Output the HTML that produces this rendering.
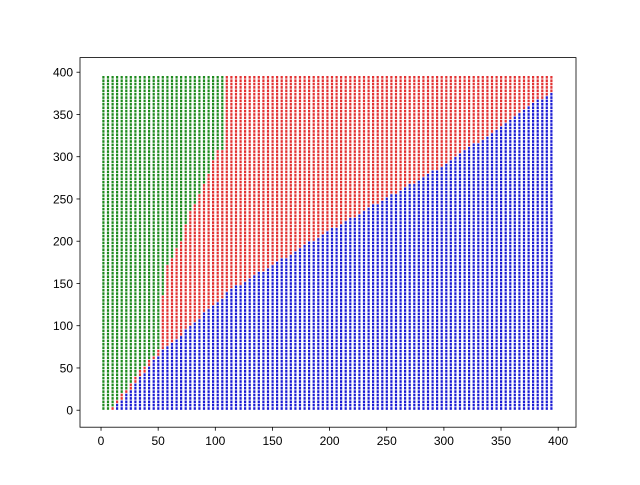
<!DOCTYPE html>
<html><head><meta charset="utf-8"><style>
body{margin:0;background:#fff;font-family:"Liberation Sans",sans-serif}
svg text{font-family:"Liberation Sans",sans-serif;font-size:12px;fill:#000}
</style></head><body>
<svg id="chart" width="640" height="480">
<rect width="640" height="480" fill="#fff"/>
<g id="pts"></g>
<rect x="80" y="57.6" width="496" height="369.6" fill="none" stroke="#000" stroke-width="0.8"/>
<g id="axes"></g>
</svg>
<script>
const xTicks=[0,50,100,150,200,250,300,350,400];
const yTicks=[0,50,100,150,200,250,300,350,400];
// red/blue boundary: [y, x]
const blueBoundY=[0,68,142,213,290,380,400];
const blueBoundX=[10,52,113,200,300,397,418];
// green/red boundary: [y, x]
const greenBoundY=[0,40,70,150,170,200,230,260,285,305,312,400];
const greenBoundX=[8,30,50,55,57,70,76,88,96,100,110,110];
const gridStart=2,gridEnd=397,gridStep=4;
const X0=80,W=496,Y0=57.6,H=369.6,xmin=-18.4,xmax=415.6,ymin=-20.1,ymax=417.3;
const sx=v=>X0+(v-xmin)/(xmax-xmin)*W;
const sy=v=>Y0+H-(v-ymin)/(ymax-ymin)*H;
function interp(ys,xs,y){for(let i=0;i<ys.length-1;i++){if(y<=ys[i+1]){const t=(y-ys[i])/(ys[i+1]-ys[i]);return xs[i]+t*(xs[i+1]-xs[i]);}}return xs[xs.length-1];}
const NS="http://www.w3.org/2000/svg";
const g=document.getElementById('pts');
for(let y=gridStart;y<=gridEnd;y+=gridStep){for(let x=gridStart;x<=gridEnd;x+=gridStep){
 let c;
 if(x>interp(blueBoundY,blueBoundX,y))c='#1c1cd4';
 else if(x<interp(greenBoundY,greenBoundX,y))c='#1f8a1f';
 else c='#e23232';
 const r=document.createElementNS(NS,'rect');
 r.setAttribute('x',(sx(x)-1).toFixed(1));r.setAttribute('y',(sy(y)-1.3).toFixed(1));
 r.setAttribute('width','2.2');r.setAttribute('height','2.6');r.setAttribute('fill',c);
 
 
 g.appendChild(r);}}
const ax=document.getElementById('axes');
xTicks.forEach(t=>{const x=sx(t);
 const l=document.createElementNS(NS,'line');l.setAttribute('x1',x);l.setAttribute('x2',x);l.setAttribute('y1',427.2);l.setAttribute('y2',430.7);l.setAttribute('stroke','#000');l.setAttribute('stroke-width','0.8');
 
 ax.appendChild(l);
 const tx=document.createElementNS(NS,'text');tx.setAttribute('x',x);tx.setAttribute('y',445);tx.setAttribute('text-anchor','middle');tx.textContent=t;
 
 ax.appendChild(tx);});
yTicks.forEach(t=>{const y=sy(t);
 const l=document.createElementNS(NS,'line');l.setAttribute('x1',76.5);l.setAttribute('x2',80);l.setAttribute('y1',y);l.setAttribute('y2',y);l.setAttribute('stroke','#000');l.setAttribute('stroke-width','0.8');
 
 ax.appendChild(l);
 const tx=document.createElementNS(NS,'text');tx.setAttribute('x',73);tx.setAttribute('y',y+4.3);tx.setAttribute('text-anchor','end');tx.textContent=t;
 
 ax.appendChild(tx);});
</script>
</body></html>
